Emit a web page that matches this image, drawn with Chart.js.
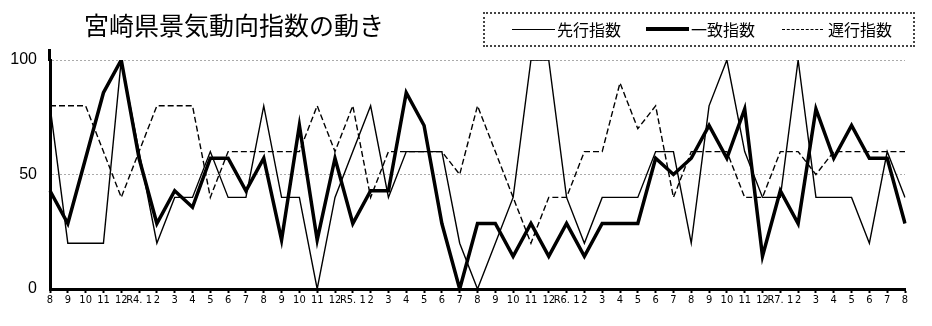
<!DOCTYPE html>
<html lang="ja">
  <head>
    <meta charset="UTF-8" />
    <title>宮崎県景気動向指数の動き</title>
    <script src="https://cdn.jsdelivr.net/npm/chart.js"></script>
    <style>
      body {
        margin: 0;
        background: #fff;
        font-family: "Noto Sans CJK JP", sans-serif;
      }
      .wrap {
        position: relative;
        width: 932px;
        height: 326px;
      }
      .title {
        position: absolute;
        left: 84px;
        top: 6px;
        font-size: 25px;
        color: #000;
      }
      .legend {
        position: absolute;
        left: 483px;
        top: 12px;
        width: 428px;
        height: 31px;
        border: 2px dotted #444;
        font-size: 16px;
      }
      .legend .item {
        position: absolute;
        top: 3px;
        display: flex;
        align-items: center;
        height: 24px;
      }
      .legend .line {
        display: inline-block;
        border-top: 1.5px solid #000;
        margin-right: 2px;
      }
      .legend .thick { border-top-width: 4px; }
      .legend .dash { border-top-style: dashed; margin-right: 5px; }
      canvas { position: absolute; left: 0; top: 0; }
    </style>
  </head>
  <body>
    <div class="wrap">
      <canvas id="diChart" width="932" height="326"></canvas>
      <div class="title">宮崎県景気動向指数の動き</div>
      <div class="legend">
        <span class="item" style="left:27px"><span class="line" style="width:43px"></span>先行指数</span>
        <span class="item" style="left:161px"><span class="line thick" style="width:43px"></span>一致指数</span>
        <span class="item" style="left:297px"><span class="line dash" style="width:41px"></span>遅行指数</span>
      </div>
    </div>

    <script>
      // months from R3.8 to R7.8
      const months = [
        "8", "9", "10", "11", "12",
        "R4. 1", "2", "3", "4", "5", "6", "7", "8", "9", "10", "11", "12",
        "R5. 1", "2", "3", "4", "5", "6", "7", "8", "9", "10", "11", "12",
        "R6. 1", "2", "3", "4", "5", "6", "7", "8", "9", "10", "11", "12",
        "R7. 1", "2", "3", "4", "5", "6", "7", "8"
      ];

      // 先行指数
      const leading = [
        80, 20, 20, 20, 100,
        60, 20, 40, 40, 60, 40, 40, 80, 40, 40, 0, 40,
        60, 80, 40, 60, 60, 60, 20, 0, 20, 40, 100, 100,
        40, 20, 40, 40, 40, 60, 60, 20, 80, 100, 60, 40,
        40, 100, 40, 40, 40, 20, 60, 40
      ];

      // 一致指数
      const coincident = [
        42.9, 28.6, 57.1, 85.7, 100,
        57.1, 28.6, 42.9, 35.7, 57.1, 57.1, 42.9, 57.1, 21.4, 71.4, 21.4, 57.1,
        28.6, 42.9, 42.9, 85.7, 71.4, 28.6, 0, 28.6, 28.6, 14.3, 28.6, 14.3,
        28.6, 14.3, 28.6, 28.6, 28.6, 57.1, 50, 57.1, 71.4, 57.1, 78.6, 14.3,
        42.9, 28.6, 78.6, 57.1, 71.4, 57.1, 57.1, 28.6
      ];

      // 遅行指数
      const lagging = [
        80, 80, 80, 60, 40,
        60, 80, 80, 80, 40, 60, 60, 60, 60, 60, 80, 60,
        80, 40, 60, 60, 60, 60, 50, 80, 60, 40, 20, 40,
        40, 60, 60, 90, 70, 80, 40, 60, 60, 60, 40, 40,
        60, 60, 50, 60, 60, 60, 60, 60
      ];

      const yTicks = [0, 50, 100];

      const tickFont = {
        family: "'Liberation Sans Narrow', 'DejaVu Sans Condensed', sans-serif",
        size: 11,
      };

      // y axis line runs a little above the 100 line, like the original
      const axisExtend = {
        id: "axisExtend",
        afterDraw: (chart) => {
          const ctx = chart.ctx;
          const x = chart.scales.x.left;
          const top = chart.chartArea.top;
          ctx.save();
          ctx.strokeStyle = "#000";
          ctx.lineWidth = 3;
          ctx.beginPath();
          ctx.moveTo(x - 0.5, top + 1);
          ctx.lineTo(x - 0.5, top - 11);
          ctx.stroke();
          ctx.restore();
        },
      };

      new Chart(document.getElementById("diChart").getContext("2d"), {
        type: "line",
        data: {
          labels: months,
          datasets: [
            {
              label: "一致指数",
              data: coincident,
              borderColor: "#000",
              borderWidth: 3.5,
              pointRadius: 0,
              tension: 0,
              order: 1,
            },
            {
              label: "先行指数",
              data: leading,
              borderColor: "#000",
              borderWidth: 1.4,
              pointRadius: 0,
              tension: 0,
              order: 2,
            },
            {
              label: "遅行指数",
              data: lagging,
              borderColor: "#000",
              borderWidth: 1.4,
              borderDash: [6, 3],
              pointRadius: 0,
              tension: 0,
              order: 3,
            },
          ],
        },
        options: {
          responsive: false,
          animation: false,
          layout: { padding: { top: 60, right: 27, left: 0, bottom: 0 } },
          plugins: {
            legend: { display: false },
            tooltip: { enabled: false },
          },
          scales: {
            x: {
              offset: false,
              grid: {
                drawOnChartArea: false,
                drawTicks: true,
                tickLength: 4,
                tickWidth: 2,
                color: "#000",
              },
              border: { display: true, color: "#000", width: 3 },
              ticks: {
                autoSkip: false,
                maxRotation: 0,
                minRotation: 0,
                padding: 1,
                color: "#000",
                font: tickFont,
              },
              afterFit: (scale) => {
                scale.height = 37;
              },
            },
            y: {
              min: 0,
              max: 100,
              afterBuildTicks: (scale) => {
                scale.ticks = yTicks.map((v) => ({ value: v }));
              },
              grid: {
                drawTicks: false,
                color: (ctx) => (ctx.tick && ctx.tick.value === 0 ? "rgba(0,0,0,0)" : "#aaa"),
                lineWidth: 1,
              },
              border: { display: true, color: "#000", width: 3, dash: [2, 2] },
              ticks: {
                padding: 13,
                color: "#000",
                font: { family: "'Liberation Sans', Arial, sans-serif", size: 16 },
              },
              afterFit: (scale) => {
                scale.width = 50;
              },
            },
          },
        },
        plugins: [axisExtend],
      });
    </script>
  </body>
</html>
